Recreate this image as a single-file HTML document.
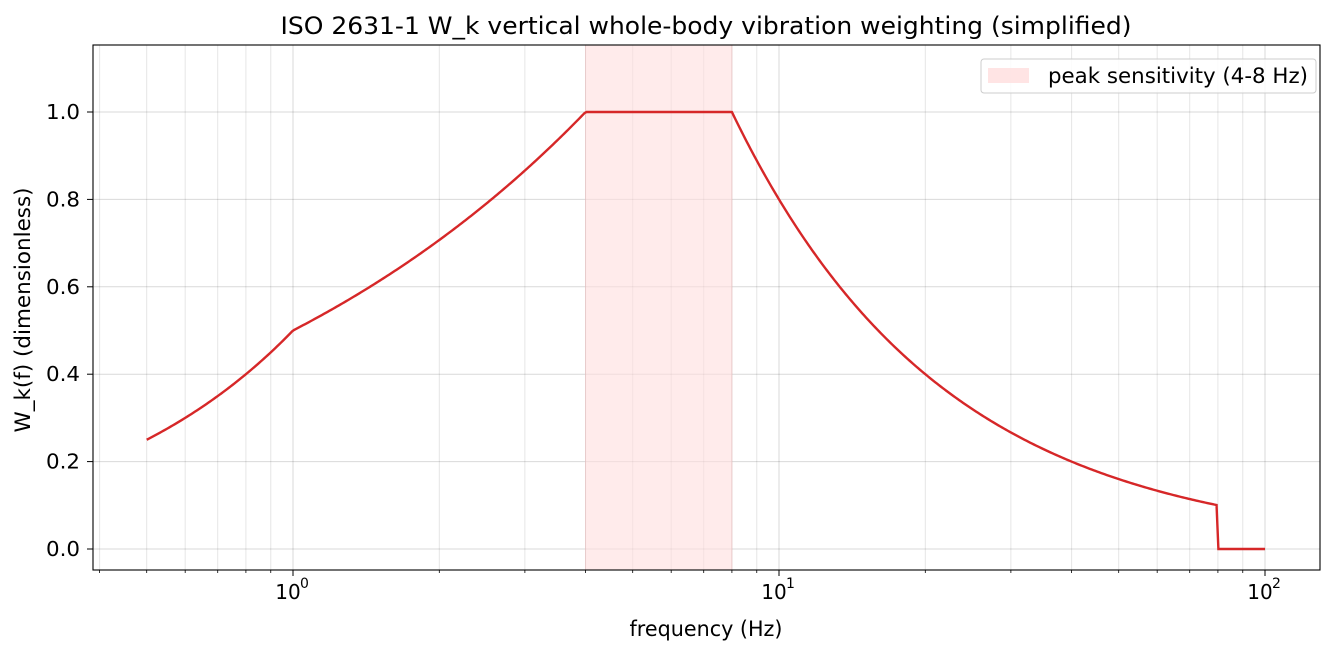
<!DOCTYPE html>
<html><head><style>
body{margin:0;background:#fff;}
svg text{font-family:"DejaVu Sans","Liberation Sans",sans-serif;fill:#000;}
</style></head><body>
<svg id="s" width="1335" height="654" xmlns="http://www.w3.org/2000/svg">
<rect width="1335" height="654" fill="#fff"/>
<g id="grid"></g>
<rect x="585.6" y="45" width="146.3" height="525" fill="#fdd" fill-opacity="0.6" stroke="#e8c4c4" stroke-width="0.8"/>
<path id="curve" fill="none" stroke="#d62728" stroke-width="2.4"/>
<rect x="93" y="45" width="1227" height="525" fill="none" stroke="#000" stroke-width="1.1"/>
<g id="ticks"></g>
<text x="706" y="34" font-size="24" text-anchor="middle" textLength="851" lengthAdjust="spacingAndGlyphs">ISO 2631-1 W_k vertical whole-body vibration weighting (simplified)</text>
<text x="706" y="636" font-size="21" text-anchor="middle" textLength="153" lengthAdjust="spacingAndGlyphs">frequency (Hz)</text>
<text transform="translate(30,310) rotate(-90)" font-size="21" text-anchor="middle" textLength="245" lengthAdjust="spacingAndGlyphs">W_k(f)  (dimensionless)</text>
<rect x="981" y="59" width="335" height="34" rx="3" fill="#fff" fill-opacity="0.85" stroke="#ccc"/>
<rect x="988" y="68" width="41" height="15" fill="#fdd" fill-opacity="0.8"/>
<text x="1048" y="83" font-size="21" textLength="260" lengthAdjust="spacingAndGlyphs">peak sensitivity (4-8 Hz)</text>
</svg>
<script>
const X=f=>293+486*Math.log10(f), Y=v=>549-437*v;
let g='',t='';
for(let d=-1;d<=2;d++)for(let m=1;m<10;m++){const f=m*Math.pow(10,d);const x=X(f);if(x<93||x>1320)continue;
 g+=`<line x1="${x}" y1="45" x2="${x}" y2="570" stroke="#000" stroke-opacity="${m==1?0.15:0.1}" stroke-width="1"/>`;
 t+=`<line x1="${x}" y1="570" x2="${x}" y2="${m==1?576:573}" stroke="#000" stroke-width="${m==1?1:0.8}"/>`;}
[0,1,2].forEach(e=>{const x=X(Math.pow(10,e));t+=`<text x="${x-5}" y="599" font-size="20" text-anchor="middle">10</text><text x="${x+7}" y="588" font-size="14">${e}</text>`;});
for(let i=0;i<=5;i++){const v=i*0.2,y=Y(v);g+=`<line x1="93" y1="${y}" x2="1320" y2="${y}" stroke="#000" stroke-opacity="0.15"/>`;
 t+=`<line x1="87" y1="${y}" x2="93" y2="${y}" stroke="#000"/><text x="80" y="${y+7}" font-size="20" text-anchor="end" textLength="34" lengthAdjust="spacingAndGlyphs">${v.toFixed(1)}</text>`;}
document.getElementById('grid').innerHTML=g;document.getElementById('ticks').innerHTML=t;
const W=f=>f<1?0.5*f:f<4?Math.sqrt(f)/2:f<=8?1:f<=80?8/f:0;
let p='';const N=600;
for(let i=0;i<=N;i++){const f=0.5*Math.pow(200,i/N);p+=(i?'L':'M')+X(f).toFixed(2)+' '+Y(W(f)).toFixed(2);}
document.getElementById('curve').setAttribute('d',p);
</script>
</body></html>
